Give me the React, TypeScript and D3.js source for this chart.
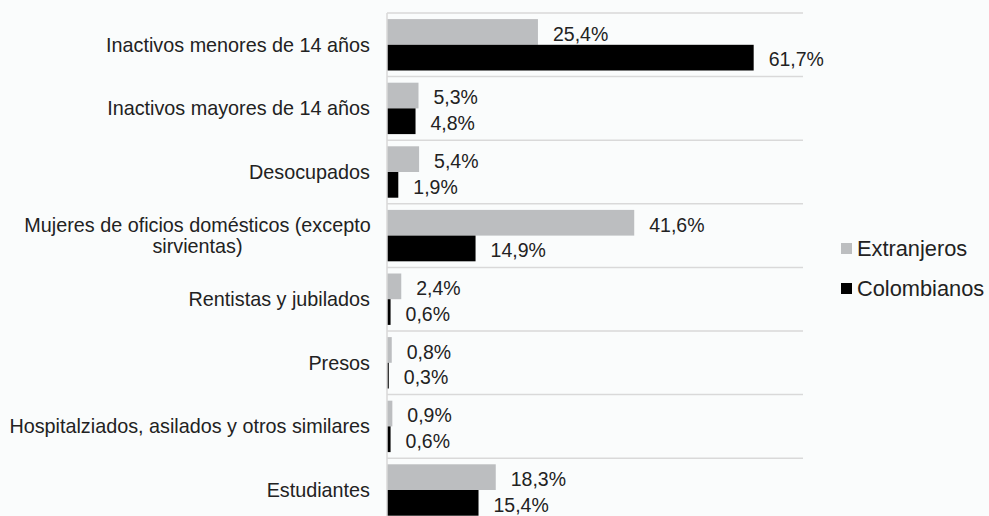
import React from "react";
import * as d3 from "d3";

const categories = [
  "Inactivos menores de 14 años",
  "Inactivos mayores de 14 años",
  "Desocupados",
  "Mujeres de oficios domésticos (excepto\nsirvientas)",
  "Rentistas y jubilados",
  "Presos",
  "Hospitalziados, asilados y otros similares",
  "Estudiantes",
];
const seriesNames = ["Extranjeros", "Colombianos"];
const extranjeros = [25.4, 5.3, 5.4, 41.6, 2.4, 0.8, 0.9, 18.3];
const colombianos = [61.7, 4.8, 1.9, 14.9, 0.6, 0.3, 0.6, 15.4];
const seriesColors = ["#bcbec0", "#000000"];

const W = 989;
const H = 516;
const FONT = "'Liberation Sans', Arial, sans-serif";

export default function App() {
  const left = 387;
  const right = 803;
  const top = 13;
  const step = 63.6;
  const x = d3.scaleLinear().domain([0, 70]).range([left, right]);
  const y = d3
    .scaleBand<string>()
    .domain(categories)
    .range([top, top + step * categories.length])
    .padding(0);
  const inner = d3
    .scaleBand<string>()
    .domain(seriesNames)
    .range([0, y.bandwidth()])
    .paddingInner(0)
    .paddingOuter(0.237);
  const values = [extranjeros, colombianos];
  const fmt = (v: number) => v.toFixed(1).replace(".", ",") + "%";

  return (
    <svg
      width={W}
      height={H}
      style={{ position: "absolute", left: 0, top: 0, background: "#fafcfc" }}
      fontFamily={FONT}
    >
      <rect x={0} y={0} width={W} height={H} fill="#fafcfc" />
      {/* gridlines */}
      {categories.map((c, i) => (
        <line
          key={"g" + i}
          x1={left}
          x2={right}
          y1={y(c)!}
          y2={y(c)!}
          stroke="#d9d9d9"
          strokeWidth={1.5}
        />
      ))}
      <line
        x1={left}
        x2={right}
        y1={y.range()[1]}
        y2={y.range()[1]}
        stroke="#d9d9d9"
        strokeWidth={1.5}
      />
      {/* bars */}
      {seriesNames.map((s, si) =>
        categories.map((c, ci) => (
          <rect
            key={s + ci}
            x={x(0)}
            y={y(c)! + inner(s)!}
            width={x(values[si][ci]) - x(0)}
            height={inner.bandwidth()}
            fill={seriesColors[si]}
          />
        ))
      )}
      {/* axis line */}
      <line
        x1={left}
        x2={left}
        y1={top}
        y2={y.range()[1]}
        stroke="#d9d9d9"
        strokeWidth={1.5}
      />
      {/* value labels */}
      {seriesNames.map((s, si) =>
        categories.map((c, ci) => (
          <text
            key={"l" + s + ci}
            x={x(values[si][ci]) + 15}
            y={y(c)! + inner(s)! + inner.bandwidth() / 2 + 2}
            dy="0.35em"
            fontSize={19.5}
            fill="#222"
          >
            {fmt(values[si][ci])}
          </text>
        ))
      )}
      {/* category labels */}
      {categories.map((c, ci) => {
        const lines = c.split("\n");
        const cy = y(c)! + y.bandwidth() / 2;
        if (lines.length === 1) {
          return (
            <text
              key={"c" + ci}
              x={370}
              y={cy}
              dy="0.35em"
              textAnchor="end"
              fontSize={19.8}
              fill="#222"
            >
              {c}
            </text>
          );
        }
        return (
          <text
            key={"c" + ci}
            x={197.5}
            y={cy - 10.5 * (lines.length - 1)}
            textAnchor="middle"
            fontSize={19.8}
            fill="#222"
          >
            {lines.map((l, li) => (
              <tspan key={li} x={197.5} dy={li === 0 ? "0.35em" : 21}>
                {l}
              </tspan>
            ))}
          </text>
        );
      })}
      {/* legend */}
      {seriesNames.map((s, si) => (
        <g key={"lg" + s} transform={`translate(841, ${248.5 + si * 40})`}>
          <rect x={0} y={-5.5} width={11} height={11} fill={seriesColors[si]} />
          <text x={16} y={0} dy="0.35em" fontSize={21.8} fill="#222">
            {s}
          </text>
        </g>
      ))}
    </svg>
  );
}
